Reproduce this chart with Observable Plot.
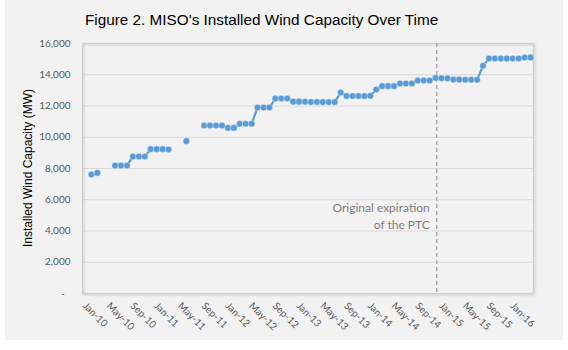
<!DOCTYPE html>
<html>
<head>
<meta charset="utf-8">
<script src="https://cdn.jsdelivr.net/npm/d3@7"></script>
<script src="https://cdn.jsdelivr.net/npm/@observablehq/plot@0.6"></script>
<style>
  html, body { margin: 0; padding: 0; background: #ffffff; }
  #wrap { position: relative; width: 568px; height: 350px; overflow: hidden; }
  #panel { position: absolute; left: 5px; top: 0; width: 558px; height: 340px; background: #f2f2f2; }
  #title { position: absolute; left: 85px; top: 10px; font: 15.3px "Liberation Sans", Arial, sans-serif; color: #000; white-space: nowrap; line-height: 20px; }
  #ytitle { position: absolute; left: -72px; top: 159px; width: 200px; text-align: center; font: 12px "Liberation Sans", Arial, sans-serif; color: #000; line-height: 18px; white-space: nowrap; transform: rotate(-90deg); transform-origin: 100px 9px; }
  #chart { position: absolute; left: 0; top: 0; }
</style>
</head>
<body>
<div id="wrap">
  <div id="panel"></div>
  <div id="chart"></div>
  <div id="title">Figure 2. MISO's Installed Wind Capacity Over Time</div>
  <div id="ytitle">Installed Wind Capacity (MW)</div>
</div>
<script>
// Months (category axis), Jan-10 through Mar-16
const months = [
  "Jan-10","Feb-10","Mar-10","Apr-10","May-10","Jun-10","Jul-10","Aug-10","Sep-10","Oct-10","Nov-10","Dec-10",
  "Jan-11","Feb-11","Mar-11","Apr-11","May-11","Jun-11","Jul-11","Aug-11","Sep-11","Oct-11","Nov-11","Dec-11",
  "Jan-12","Feb-12","Mar-12","Apr-12","May-12","Jun-12","Jul-12","Aug-12","Sep-12","Oct-12","Nov-12","Dec-12",
  "Jan-13","Feb-13","Mar-13","Apr-13","May-13","Jun-13","Jul-13","Aug-13","Sep-13","Oct-13","Nov-13","Dec-13",
  "Jan-14","Feb-14","Mar-14","Apr-14","May-14","Jun-14","Jul-14","Aug-14","Sep-14","Oct-14","Nov-14","Dec-14",
  "Jan-15","Feb-15","Mar-15","Apr-15","May-15","Jun-15","Jul-15","Aug-15","Sep-15","Oct-15","Nov-15","Dec-15",
  "Jan-16","Feb-16","Mar-16"
];
// Installed wind capacity (MW); null = no data for that month
const capacity = [
  7620, 7720, null, null, 8190, 8190, 8190, 8770, 8770, 8770, 9240, 9240,
  9240, 9220, null, null, 9750, null, null, 10750, 10750, 10750, 10750, 10600,
  10600, 10860, 10860, 10860, 11900, 11900, 11900, 12480, 12480, 12480, 12280, 12280,
  12270, 12260, 12260, 12250, 12250, 12250, 12860, 12640, 12640, 12640, 12640, 12650,
  13060, 13270, 13270, 13270, 13440, 13440, 13440, 13630, 13630, 13630, 13790, 13780,
  13770, 13690, 13690, 13680, 13680, 13680, 14570, 15040, 15040, 15040, 15040, 15040,
  15040, 15100, 15110
];
const xTickLabels = ["Jan-10","May-10","Sep-10","Jan-11","May-11","Sep-11","Jan-12","May-12","Sep-12","Jan-13","May-13","Sep-13","Jan-14","May-14","Sep-14","Jan-15","May-15","Sep-15","Jan-16"];
const yTicks = [0, 2000, 4000, 6000, 8000, 10000, 12000, 14000, 16000];
const ptcExpiration = 58.2;            // position of the marker, in months after Jan-10
const ptcNoteY = 5000;                  // vertical placement of the note (MW)
const ptcNote = ["Original expiration", "of the PTC"];

const idx = new Map(months.map((m, i) => [m, i]));
const data = months.map((m, i) => ({i, month: m, value: capacity[i]}));
const fmt = d3.format(",");

const chart = Plot.plot({
  width: 568,
  height: 350,
  marginLeft: 82,
  marginRight: 35,
  marginTop: 43,
  marginBottom: 57,
  style: {background: "transparent", fontFamily: "Lato, sans-serif", fontSize: "10px", color: "#595959", overflow: "visible"},
  x: {domain: [-1.5, 74.5], axis: null},
  y: {domain: [0, 16000], ticks: yTicks, tickSize: 0, tickPadding: 12, label: null,
      tickFormat: d => d === 0 ? "-\u2007" : fmt(d)},
  marks: [
    Plot.ruleY(yTicks.filter(d => d > 0), {stroke: "#d9d9d9", strokeWidth: 1}),
    Plot.frame({stroke: "#cfcfcf", strokeWidth: 1}),
    Plot.ruleX([ptcExpiration], {stroke: "#a0a0a0", strokeDasharray: "4,3", strokeWidth: 1.25}),
    Plot.text([ptcNote.join("\n")], {x: ptcExpiration, y: ptcNoteY, textAnchor: "end", dx: -7, lineHeight: 1.35, fill: "#7f7f7f", fontSize: 12, fontFamily: "Lato, sans-serif"}),
    Plot.line(data, {x: "i", y: "value", stroke: "#5b9bd5", strokeWidth: 2.25}),
    Plot.dot(data.filter(d => d.value != null), {x: "i", y: "value", r: 3.3, fill: "#5b9bd5", stroke: "#ffffff", strokeOpacity: 0.45, strokeWidth: 0.8}),
    Plot.text(xTickLabels, {x: d => idx.get(d), frameAnchor: "bottom", text: d => d, rotate: 45, textAnchor: "start", lineAnchor: "top", dy: 8, dx: -4, fill: "#595959", fontSize: 10, fontFamily: "Lato, sans-serif"})
  ]
});
document.getElementById("chart").appendChild(chart);
const frameRect = chart.querySelector('g[aria-label="frame"] rect') || chart.querySelector('rect[aria-label="frame"]');
if (frameRect) frameRect.style.filter = "drop-shadow(1px 1.5px 1.2px rgba(0,0,0,0.25))";
</script>
</body>
</html>
